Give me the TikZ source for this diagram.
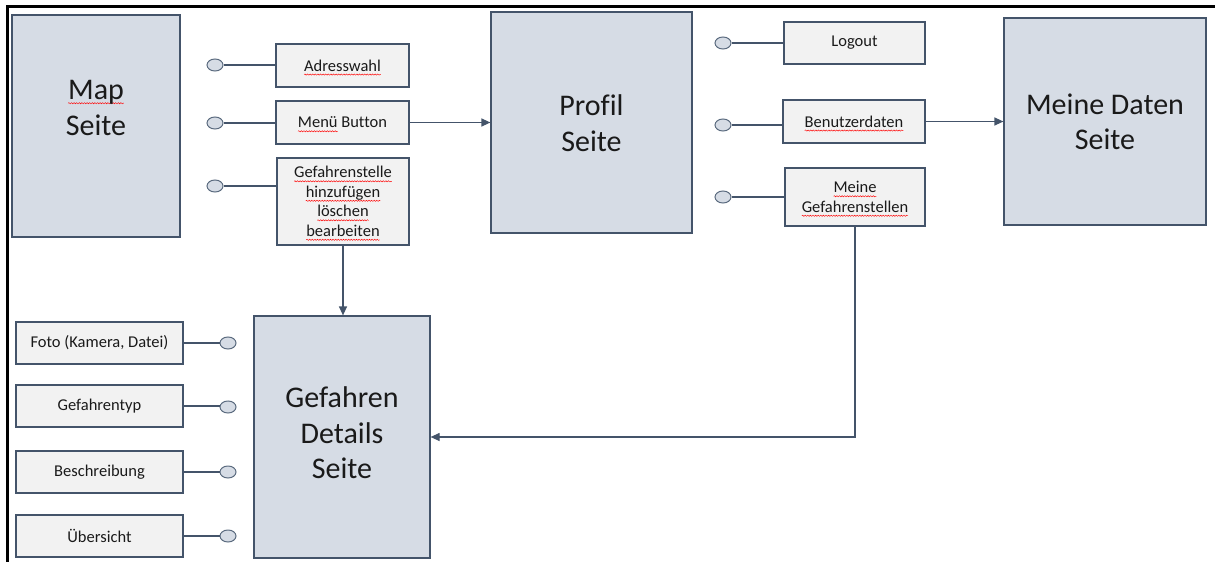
\documentclass[tikz,border=0pt]{standalone}
\usepackage{fontspec}
\setmainfont{Carlito}[Ligatures=NoCommon]
\usetikzlibrary{arrows.meta,decorations.pathmorphing,shapes.geometric}
\definecolor{pagefill}{HTML}{D6DCE5}
\definecolor{itemfill}{HTML}{F2F2F2}
\definecolor{edge}{HTML}{44546A}
\definecolor{knob}{HTML}{5B6B7F}
\definecolor{ink}{HTML}{1A1A1A}
% red wavy spell-check underline drawn beneath a word
\newsavebox\sqbox
\newlength\sqlen
\newcommand\squig[1]{\sbox\sqbox{#1}\setlength\sqlen{\wd\sqbox}%
  \hbox{\rlap{\tikz[overlay,x=1pt,y=1pt]\draw[red, line width=0.45pt, decorate,
      decoration={snake, amplitude=0.6pt, segment length=2.6pt}] (0,-3.4) -- (\sqlen,-3.4);}%
    \usebox\sqbox}}
\tikzset{
  pagebox/.style={draw=edge, fill=pagefill, line width=1.2pt, inner sep=0pt},
  pagetext/.style={font=\fontsize{30}{35.4}\selectfont, text=ink, align=center, inner sep=0pt},
  itembox/.style={draw=edge, fill=itemfill, line width=1.2pt, inner sep=0pt, text=ink,
    font=\fontsize{16.5}{19.5}\selectfont, align=center},
  knobnode/.style={ellipse, draw=knob, fill=pagefill, line width=1pt,
    minimum width=16pt, minimum height=12pt, inner sep=0pt},
  wire/.style={draw=edge, line width=1.2pt},
  flow/.style={draw=edge, line width=1.2pt, -{Triangle[length=9pt,width=8pt]}},
  frame/.style={draw=black, line width=3pt}
}
\begin{document}
\begin{tikzpicture}[x=1pt,y=-1pt]
\useasboundingbox (0,0) rectangle (1215,562);
% outer frame (top and left edges)
\coordinate (ftr) at (1215,6);
\coordinate (ftl) at (7,6);
\coordinate (fbl) at (7,562);
\draw[frame] (ftr) -- (ftl) -- (fbl);

% pages
\node[pagebox, minimum width=168pt, minimum height=222pt] (map) at (96,126) {};
\node[pagetext] (maplbl) at (96,108) {\squig{Map}\\Seite};
\node[pagebox, minimum width=201pt, minimum height=221pt] (profil) at (591.5,122.5) {};
\node[pagetext] (profillbl) at (591.5,123) {Profil\\Seite};
\node[pagebox, minimum width=202pt, minimum height=207pt] (daten) at (1105,121.5) {};
\node[pagetext] (datenlbl) at (1105,122) {Meine Daten\\Seite};
\node[pagebox, minimum width=176pt, minimum height=242pt] (details) at (342,437) {};
\node[pagetext] (detailslbl) at (342,433) {Gefahren\\Details\\Seite};

% items of the map page
\node[itembox, minimum width=133pt, minimum height=43pt] (adr) at (342.5,65.5) {\squig{Adresswahl}};
\node[itembox, minimum width=133pt, minimum height=43pt] (menu) at (342.5,122.5) {\squig{Menü} Button};
\node[itembox, minimum width=132pt, minimum height=87pt] (gef) at (343,201.5)
  {\squig{Gefahrenstelle}\\\squig{hinzufügen}\\\squig{löschen}\\\squig{bearbeiten}};
\node[knobnode] (k1) at (215,65) {};
\node[knobnode] (k2) at (215,123) {};
\node[knobnode] (k3) at (215,186) {};
\draw[wire] (k1.east) -- (k1.east -| adr.west);
\draw[wire] (k2.east) -- (k2.east -| menu.west);
\draw[wire] (k3.east) -- (k3.east -| gef.west);

% items of the profile page
\node[itembox, minimum width=141pt, minimum height=42pt] (logout) at (854.5,43) {Logout};
\node[itembox, minimum width=142pt, minimum height=43pt] (user) at (854,121.5) {\squig{Benutzerdaten}};
\node[itembox, minimum width=140pt, minimum height=58pt] (mine) at (855,197) {\squig{Meine}\\\squig{Gefahrenstellen}};
\node[knobnode] (k4) at (723,43) {};
\node[knobnode] (k5) at (723,125) {};
\node[knobnode] (k6) at (723,197) {};
\draw[wire] (k4.east) -- (k4.east -| logout.west);
\draw[wire] (k5.east) -- (k5.east -| user.west);
\draw[wire] (k6.east) -- (k6.east -| mine.west);

% items of the details page
\node[itembox, minimum width=167pt, minimum height=42pt] (foto) at (99.5,343) {Foto (Kamera, Datei)};
\node[itembox, minimum width=167pt, minimum height=42pt] (typ) at (99.5,406) {Gefahrentyp};
\node[itembox, minimum width=167pt, minimum height=42pt] (beschr) at (99.5,472) {Beschreibung};
\node[itembox, minimum width=167pt, minimum height=42pt] (ueber) at (99.5,536) {Übersicht};
\node[knobnode] (k7) at (228,343) {};
\node[knobnode] (k8) at (228,407) {};
\node[knobnode] (k9) at (228,472) {};
\node[knobnode] (k10) at (228,536) {};
\draw[wire] (foto.east) -- (foto.east -| k7.west);
\draw[wire] (typ.east) -- (typ.east -| k8.west);
\draw[wire] (beschr.east) -- (beschr.east -| k9.west);
\draw[wire] (ueber.east) -- (ueber.east -| k10.west);

% navigation
\draw[flow] (menu.east) -- (menu.east -| profil.west);
\draw[flow] (user.east) -- (user.east -| daten.west);
\draw[flow] (gef.south) -- (gef.south |- details.north);
\draw[flow] (mine.south) |- (details.east);
\end{tikzpicture}
\end{document}
